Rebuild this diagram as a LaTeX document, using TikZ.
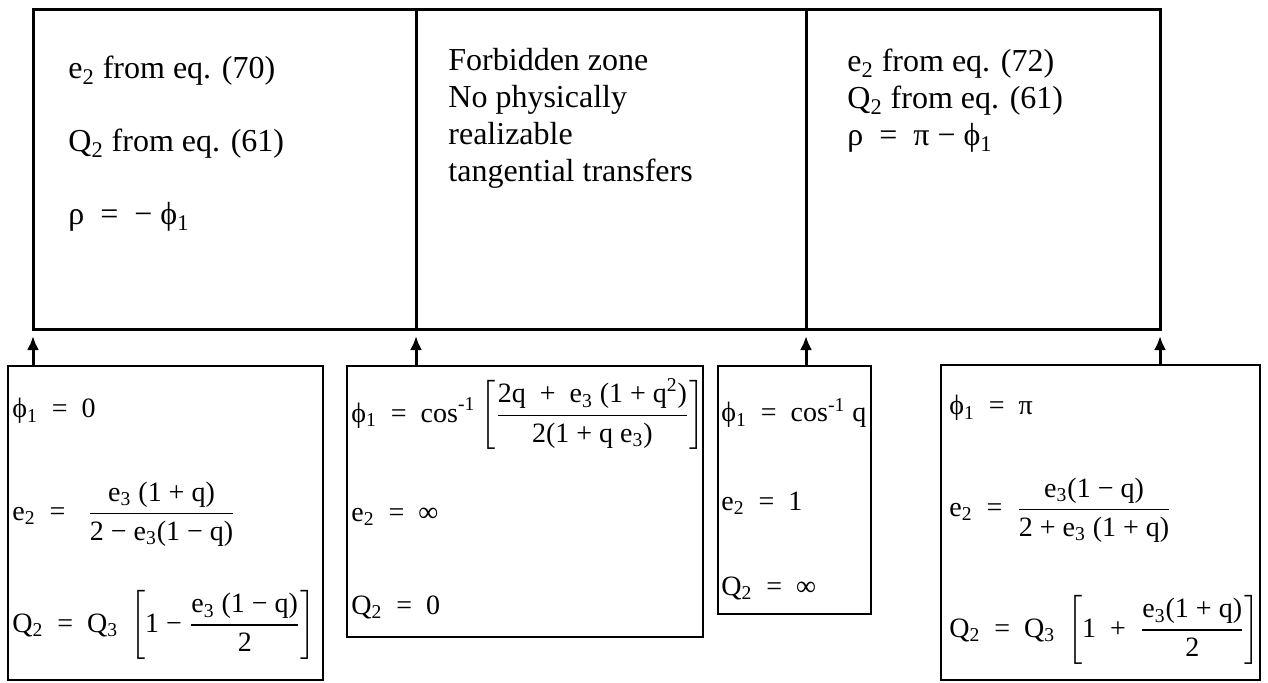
\documentclass[tikz,border=0pt]{standalone}
\usepackage{amsmath}
\usepackage{fontspec}
\setmainfont{Liberation Serif}
\usetikzlibrary{arrows.meta}

\newcommand{\sub}[1]{\textsubscript{#1}}
\newcommand{\eqs}{\enspace=\enspace}

\begin{document}
\begin{tikzpicture}[x=0.5pt, y=-0.5pt,
    cell/.style={draw, line width=1.5pt, inner sep=0pt, outer sep=0pt},
    panel/.style={draw, line width=1pt, inner sep=0pt, outer sep=0pt},
    toptext/.style={anchor=north west, inner sep=0pt, align=left, font=\fontsize{16}{18.5}\selectfont},
    rowtext/.style={anchor=west, inner sep=0pt, font=\fontsize{14}{16}\selectfont},
    arrow/.style={-{Latex[length=7pt, width=6pt]}, line width=1.5pt, shorten >=3.5pt}
  ]
  \useasboundingbox (0,0) rectangle (1268,682);

  % upper row of cases
  \node[cell, minimum width=191.5pt, minimum height=160pt] (left) at (224.5,169) {};
  \node[cell, minimum width=195pt, minimum height=160pt] (forbid) at (611,169) {};
  \node[cell, minimum width=177pt, minimum height=160pt] (right) at (983,169) {};

  \node[toptext, font=\fontsize{16}{36.5}\selectfont] (lefttxt) at (68,56)
    {e\sub2 from eq. (70)\\Q\sub2 from eq. (61)\\ρ \ = \ − ϕ\sub1};
  \node[toptext] (forbidtxt) at (448,48)
    {Forbidden zone\\No physically\\realizable\\tangential transfers};
  \node[toptext] (righttxt) at (847,49)
    {e\sub2 from eq. (72)\\Q\sub2 from eq. (61)\\ρ \ = \ π − ϕ\sub1};

  % limiting values
  \node[panel, minimum width=157.5pt, minimum height=157pt] (zero) at (165.5,523) {};
  \node[panel, minimum width=178pt, minimum height=135.5pt] (inf) at (525,501.5) {};
  \node[panel, minimum width=76.5pt, minimum height=124pt] (unit) at (794.5,490) {};
  \node[panel, minimum width=159.5pt, minimum height=157.5pt] (pi) at (1100.5,522.5) {};

  \node[rowtext] (zero1) at (12,411) {ϕ\sub1\eqs 0};
  \node[rowtext] (zero2) at (12,514)
    {$\text{e\sub2\eqs\hspace{4pt}}\dfrac{\text{e\sub3 (1 + q)}}{\text{2 − e\sub3(1 − q)}}$};
  \node[rowtext] (zero3) at (12,625)
    {$\text{Q\sub2\eqs Q\sub3}\ \left[\text{1 − }\dfrac{\text{e\sub3 (1 − q)}}{\text{2}}\right]$};

  \node[rowtext] (inf1) at (351,414)
    {$\text{ϕ\sub1\eqs cos}^{\text{-1}}\left[\dfrac{\text{2q \ + \ e\sub3 (1 + q}^{\text{2}}\text{)}}{\text{2(1 + q e\sub3)}}\right]$};
  \node[rowtext] (inf2) at (351,517) {e\sub2\eqs ∞};
  \node[rowtext] (inf3) at (351,607) {Q\sub2\eqs 0};

  \node[rowtext] (unit1) at (721,413) {ϕ\sub1\eqs cos\textsuperscript{-1} q};
  \node[rowtext] (unit2) at (721,503) {e\sub2\eqs 1};
  \node[rowtext] (unit3) at (721,588) {Q\sub2\eqs ∞};

  \node[rowtext] (pi1) at (949,408) {ϕ\sub1\eqs π};
  \node[rowtext] (pi2) at (949,510)
    {$\text{e\sub2\eqs}\dfrac{\text{e\sub3(1 − q)}}{\text{2 + e\sub3 (1 + q)}}$};
  \node[rowtext] (pi3) at (949,630)
    {$\text{Q\sub2\eqs Q\sub3}\ \left[\text{1 \ + \ }\dfrac{\text{e\sub3(1 + q)}}{\text{2}}\right]$};

  \draw[arrow] (left.south west |- zero.north) -- (left.south west);
  \draw[arrow] (left.south east |- inf.north) -- (left.south east);
  \draw[arrow] (forbid.south east |- unit.north) -- (forbid.south east);
  \draw[arrow] (right.south east |- pi.north) -- (right.south east);
\end{tikzpicture}
\end{document}
